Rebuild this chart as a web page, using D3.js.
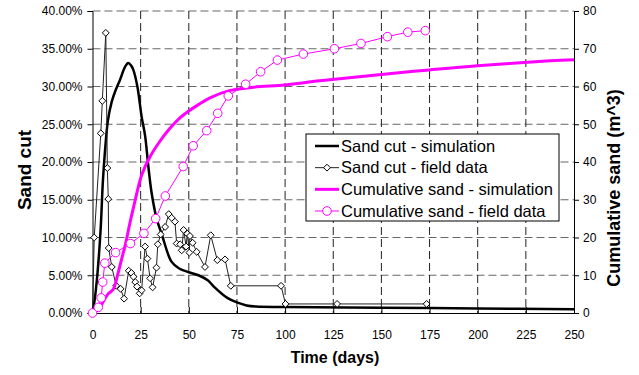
<!DOCTYPE html>
<html>
<head>
<meta charset="utf-8">
<script src="https://cdn.jsdelivr.net/npm/d3@7"></script>
<style>
  body { margin: 0; background: #fff; }
  svg text { font-family: "Liberation Sans", Arial, sans-serif; }
</style>
</head>
<body>
<div id="chart"></div>
<script>
let width = 639, height = 375;

// Sand cut - simulation (days, %)
let simDays = [0, 1, 2.5, 4.2, 5.4, 6.5, 8, 10, 12, 14.3, 16.9, 18.6, 20, 21.2, 23.3, 24.7, 25.5, 27.3, 29, 30.7, 33.3, 36, 41, 45, 50, 55, 60, 63, 70, 75, 80, 85, 100, 150, 200, 250];
let simCut = [0, 1.5, 5, 11, 17.5, 21.5, 25.5, 28, 29.5, 30.9, 32.6, 33.1, 32.8, 32.2, 30, 27.5, 26, 23.5, 19.4, 15.9, 12.5, 10.4, 6.8, 5.9, 5.4, 5.0, 4.3, 3.5, 2.0, 1.4, 1.0, 0.85, 0.8, 0.7, 0.6, 0.5];

// Sand cut - field data (days, %)
let fieldDays = [0, 0.9, 4.3, 5.1, 6.9, 7.7, 8.2, 8.4, 10, 12.3, 14.6, 16.4, 18.8, 20.2, 21.3, 22.2, 23.1, 24.5, 25.5, 27.3, 28.5, 29.9, 31.2, 33.2, 33.9, 35.4, 37.7, 39.6, 41.1, 42.8, 43.7, 45.5, 46.3, 47.3, 48.6, 49.2, 50.3, 50.6, 52, 54.1, 58.4, 61.4, 64.8, 68.8, 71.8, 97.9, 100.2, 127, 173.5];
let fieldCut = [0, 10, 23.8, 28.1, 37.1, 19.2, 15.1, 8.6, 6.1, 3.6, 3.2, 1.9, 5.6, 5.3, 4.8, 4.1, 3.5, 2.6, 3.0, 8.8, 7.2, 4.6, 3.4, 6.0, 9.1, 10.4, 11.4, 13.1, 12.6, 12.1, 9.2, 9.1, 8.3, 11.0, 8.8, 10.5, 8.0, 10.2, 9.3, 8.1, 6.1, 10.3, 7.0, 7.1, 3.6, 3.6, 1.2, 1.2, 1.2];

// Cumulative sand - simulation (days, m^3)
let cumSimDays = [0, 3, 5, 8, 10.8, 13, 15, 17, 19.5, 22, 25.5, 30, 35, 40, 45, 50, 55, 61, 71, 83.5, 100, 118, 150, 175, 200, 237.5, 250];
let cumSim = [0, 1, 2.5, 5, 6.3, 10, 14, 18, 24, 29.5, 36.5, 41.5, 45.5, 48.8, 51.5, 53.5, 55.2, 57, 58.9, 59.8, 60.4, 61.5, 63.2, 64.4, 65.5, 66.8, 67.1];

// Cumulative sand - field data (days, m^3)
let cumFieldDays = [0, 3, 4.5, 5.3, 6.4, 12, 19.7, 26.7, 32.8, 37.8, 47.1, 52.3, 59.3, 65, 70.5, 79.5, 87.3, 96, 109.5, 125.6, 139.4, 153.1, 163.7, 172.8];
let cumField = [0, 1.5, 4, 8.2, 13.2, 16, 18.4, 21.1, 25, 31, 38.8, 44.3, 48.3, 52.9, 57.5, 60.6, 63.9, 67, 68.6, 70, 71.4, 73.2, 74.4, 74.8];

let xTicks = [0, 25, 50, 75, 100, 125, 150, 175, 200, 225, 250];
let leftTicks = [0, 0.05, 0.10, 0.15, 0.20, 0.25, 0.30, 0.35, 0.40];
let rightTicks = [0, 10, 20, 30, 40, 50, 60, 70, 80];

let legendLabels = ["Sand cut - simulation", "Sand cut - field data", "Cumulative sand - simulation", "Cumulative sand - field data"];

let margin = ({top: 11, right: 65, bottom: 62, left: 92.5});

let svg = d3.select("#chart")
    .append("svg")
    .attr("width", width)
    .attr("height", height);

let xScale = d3.scaleLinear()
    .domain([0, 250])
    .range([margin.left, width - margin.right]);

let yLeft = d3.scaleLinear()
    .domain([0, 0.40])
    .range([height - margin.bottom, margin.top]);

let yRight = d3.scaleLinear()
    .domain([0, 80])
    .range([height - margin.bottom, margin.top]);

// gridlines
svg.append("g")
    .selectAll("line")
    .data(leftTicks.slice(1))
    .enter()
    .append("line")
    .attr("x1", xScale(0))
    .attr("x2", xScale(250))
    .attr("y1", d => yLeft(d))
    .attr("y2", d => yLeft(d))
    .attr("stroke", "#666")
    .attr("stroke-dasharray", "8,4");

svg.append("g")
    .selectAll("line")
    .data(xTicks.slice(1, -1))
    .enter()
    .append("line")
    .attr("x1", d => xScale(d))
    .attr("x2", d => xScale(d))
    .attr("y1", yLeft(0.40))
    .attr("y2", yLeft(0))
    .attr("stroke", "#222")
    .attr("stroke-dasharray", "8,4");

// axes
let gX = svg.append("g")
    .attr("transform", `translate(0,${yLeft(0)})`)
    .call(d3.axisBottom(xScale)
        .tickValues(xTicks)
        .tickSizeInner(-6)
        .tickSizeOuter(0)
        .tickPadding(17));

let gY = svg.append("g")
    .attr("transform", `translate(${xScale(0)},0)`)
    .call(d3.axisLeft(yLeft)
        .tickValues(leftTicks)
        .tickFormat(d3.format(".2%"))
        .tickSize(5)
        .tickPadding(5));

let gY2 = svg.append("g")
    .attr("transform", `translate(${xScale(250)},0)`)
    .call(d3.axisRight(yRight)
        .tickValues(rightTicks)
        .tickSize(5)
        .tickPadding(4));

[gX, gY, gY2].forEach(function(g) {
    g.selectAll("text")
        .attr("font-size", 12)
        .attr("fill", "#000")
        .attr("font-family", "Liberation Sans, Arial");
    g.selectAll("line").attr("stroke", "#000");
    g.select(".domain").attr("stroke", "#000");
});

// series
let simLine = d3.line()
    .x(d => xScale(d[0]))
    .y(d => yLeft(d[1] / 100))
    .curve(d3.curveCatmullRom);

let fieldLine = d3.line()
    .x(d => xScale(d[0]))
    .y(d => yLeft(d[1] / 100));

let cumSimLine = d3.line()
    .x(d => xScale(d[0]))
    .y(d => yRight(d[1]))
    .curve(d3.curveCatmullRom);

let cumFieldLine = d3.line()
    .x(d => xScale(d[0]))
    .y(d => yRight(d[1]));

let simData = simDays.map((d, i) => [d, simCut[i]]);
let fieldData = fieldDays.map((d, i) => [d, fieldCut[i]]);
let cumSimData = cumSimDays.map((d, i) => [d, cumSim[i]]);
let cumFieldData = cumFieldDays.map((d, i) => [d, cumField[i]]);

svg.append("path")
    .datum(simData)
    .attr("d", simLine)
    .attr("fill", "none")
    .attr("stroke", "#000")
    .attr("stroke-width", 2.5);

svg.append("path")
    .datum(fieldData)
    .attr("d", fieldLine)
    .attr("fill", "none")
    .attr("stroke", "#222")
    .attr("stroke-width", 1);

let diamond = d3.symbol().type(d3.symbolDiamond2).size(30);

svg.append("g")
    .selectAll("path")
    .data(fieldData)
    .enter()
    .append("path")
    .attr("d", diamond)
    .attr("transform", d => `translate(${xScale(d[0])},${yLeft(d[1] / 100)})`)
    .attr("fill", "#fff")
    .attr("stroke", "#000")
    .attr("stroke-width", 1);

svg.append("path")
    .datum(cumSimData)
    .attr("d", cumSimLine)
    .attr("fill", "none")
    .attr("stroke", "#ff00ff")
    .attr("stroke-width", 3);

svg.append("path")
    .datum(cumFieldData)
    .attr("d", cumFieldLine)
    .attr("fill", "none")
    .attr("stroke", "#ff00ff")
    .attr("stroke-width", 1);

svg.append("g")
    .selectAll("circle")
    .data(cumFieldData)
    .enter()
    .append("circle")
    .attr("cx", d => xScale(d[0]))
    .attr("cy", d => yRight(d[1]))
    .attr("r", 4.3)
    .attr("fill", "#fff")
    .attr("stroke", "#ff00ff")
    .attr("stroke-width", 1);

// axis titles
svg.append("text")
    .attr("text-anchor", "middle")
    .attr("x", 335)
    .attr("y", 363)
    .attr("font-size", 16)
    .attr("font-weight", "bold")
    .text("Time (days)");

svg.append("text")
    .attr("text-anchor", "middle")
    .attr("transform", "translate(31,170) rotate(-90)")
    .attr("font-size", 19)
    .attr("font-weight", "bold")
    .text("Sand cut");

svg.append("text")
    .attr("text-anchor", "middle")
    .attr("transform", "translate(620,188) rotate(-90)")
    .attr("font-size", 18)
    .attr("font-weight", "bold")
    .text("Cumulative sand (m^3)");

// legend
let legend = svg.append("g");

legend.append("rect")
    .attr("x", 306)
    .attr("y", 134)
    .attr("width", 253)
    .attr("height", 87)
    .attr("fill", "#fff")
    .attr("stroke", "#000");

let rowY = d3.scalePoint()
    .domain(legendLabels)
    .range([146, 211]);

let legendColors = ["#000", "#222", "#ff00ff", "#ff00ff"];
let legendWidths = [2.5, 1, 3, 1];

legendLabels.forEach(function(label, i) {
    let y = rowY(label);
    legend.append("line")
        .attr("x1", 315)
        .attr("x2", 339)
        .attr("y1", y)
        .attr("y2", y)
        .attr("stroke", legendColors[i])
        .attr("stroke-width", legendWidths[i]);
    if (i === 1) {
        legend.append("path")
            .attr("d", diamond)
            .attr("transform", `translate(327,${y})`)
            .attr("fill", "#fff")
            .attr("stroke", "#000");
    }
    if (i === 3) {
        legend.append("circle")
            .attr("cx", 327)
            .attr("cy", y)
            .attr("r", 4.3)
            .attr("fill", "#fff")
            .attr("stroke", "#ff00ff");
    }
    legend.append("text")
        .attr("x", 341)
        .attr("y", y)
        .attr("dy", "0.35em")
        .attr("font-size", 16.5)
        .text(label);
});
</script>
</body>
</html>
